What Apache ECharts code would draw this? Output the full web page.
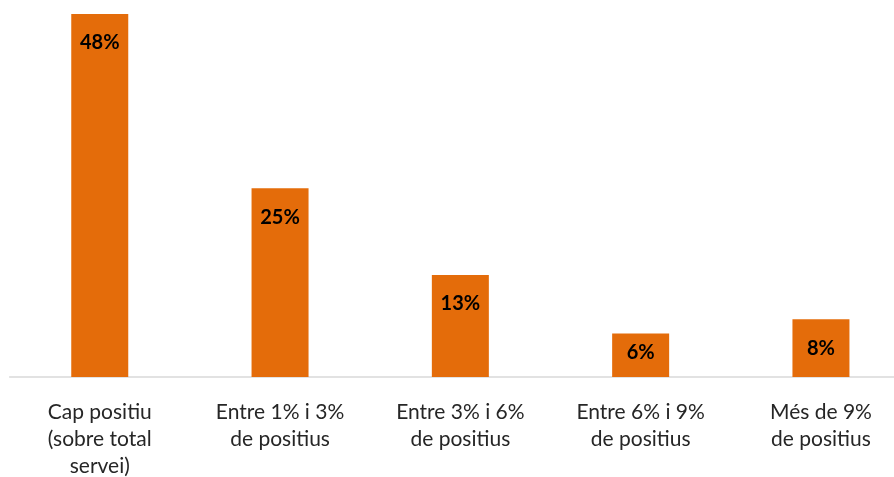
<!DOCTYPE html>
<html>
<head>
<meta charset="utf-8">
<script src="https://cdn.jsdelivr.net/npm/echarts@6/dist/echarts.min.js"></script>
<style>
  html, body { margin: 0; padding: 0; background: #fff; }
  #chart { width: 894px; height: 477px; }
</style>
</head>
<body>
<div id="chart"></div>
<script>
// categories and values (percent)
var categories = [
  'Cap positiu\n(sobre total\nservei)',
  'Entre 1% i 3%\nde positius',
  'Entre 3% i 6%\nde positius',
  'Entre 6% i 9%\nde positius',
  'Més de 9%\nde positius'
];
var values = [47.7, 24.8, 13.4, 5.7, 7.6];

var myChart = echarts.init(document.getElementById('chart'));

// short bars keep their label pulled up inside the bar
var barData = values.map(function (v) {
  return v < 7 ? { value: v, label: { distance: 9 } } : v;
});

var option = {
  animation: false,
  grid: { left: 9.6, top: 14, width: 901.5, bottom: 100, outerBoundsMode: 'none', containLabel: false },
  xAxis: {
    type: 'category',
    data: categories,
    axisLine: { lineStyle: { color: '#d9d9d9', width: 1.5 } },
    axisTick: { show: false },
    axisLabel: {
      interval: 0,
      color: '#262626',
      fontFamily: 'Lato',
      fontSize: 21,
      lineHeight: 27,
      margin: 22
    }
  },
  yAxis: {
    type: 'value',
    min: 0,
    max: 47.7,
    show: false
  },
  series: [{
    type: 'bar',
    data: barData,
    barWidth: 57,
    itemStyle: { color: '#E46C0A' },
    label: {
      show: true,
      position: 'insideTop',
      distance: 19,
      color: '#000',
      fontFamily: 'Lato',
      fontWeight: 'bold',
      fontSize: 20,
      formatter: function (p) { return Math.round(p.value) + '%'; }
    }
  }]
};

myChart.setOption(option);
</script>
</body>
</html>
